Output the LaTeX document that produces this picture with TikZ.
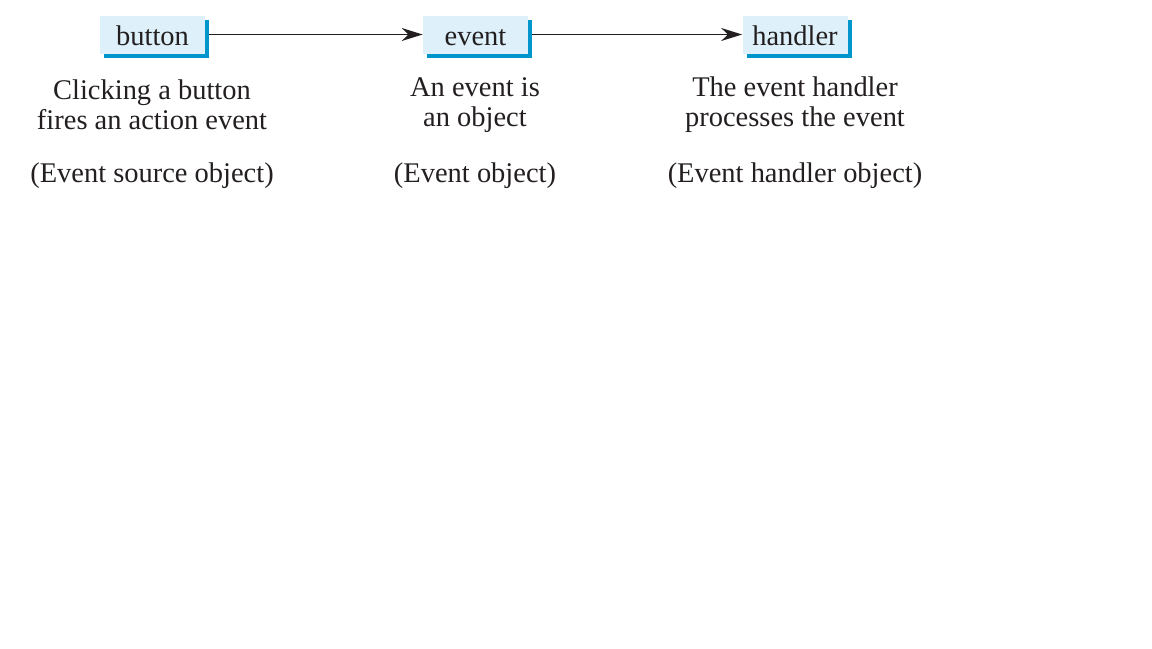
\documentclass[tikz,border=0pt]{standalone}
\usepackage{fontspec}
\setmainfont{Liberation Serif}
\usetikzlibrary{shadows,arrows.meta}
\definecolor{boxfill}{RGB}{222,241,250}
\definecolor{boxshade}{RGB}{0,150,204}
\definecolor{ink}{RGB}{35,31,32}
\tikzset{
    objbox/.style={fill=boxfill, minimum width=2.1cm, minimum height=0.76cm,
        inner sep=2pt, text=ink, font=\fontsize{16.2}{18}\selectfont,
        text height=12.8pt, text depth=0pt,
        drop shadow={shadow xshift=0.08cm, shadow yshift=-0.08cm,
            fill=boxshade, opacity=1}},
    note/.style={align=center, text=ink, font=\fontsize{16.2}{17.2}\selectfont},
    flow/.style={draw=ink, line width=0.7pt, -{Stealth[length=4.2mm, width=2.6mm]}}
}
\begin{document}
\begin{tikzpicture}
                \useasboundingbox (0,0) rectangle (23.04,-12.96);

                \node[objbox] (button) at (3.05,-0.69) {button};
                \node[objbox] (event) at (9.51,-0.69) {event};
                \node[objbox] (handler) at (15.9,-0.69) {handler};

                \draw[flow] (button.east) ++(0.08,0) coordinate (buttonout) -- (event.west);
                \draw[flow] (event.east) ++(0.08,0) coordinate (eventout) -- (handler.west);

                \node[note] (buttonnote) at (3.04,-2.1) {Clicking a button\\fires an action event};
                \node[note] (eventnote) at (9.5,-2.1) {An event is\\an object};
                \node[note] (handlernote) at (15.9,-2.1) {The event handler\\processes the event};

                \node[note] (buttonkind) at (3.04,-3.52) {(Event source object)};
                \node[note] (eventkind) at (9.5,-3.52) {(Event object)};
                \node[note] (handlerkind) at (15.9,-3.52) {(Event handler object)};
            \end{tikzpicture}
\end{document}
